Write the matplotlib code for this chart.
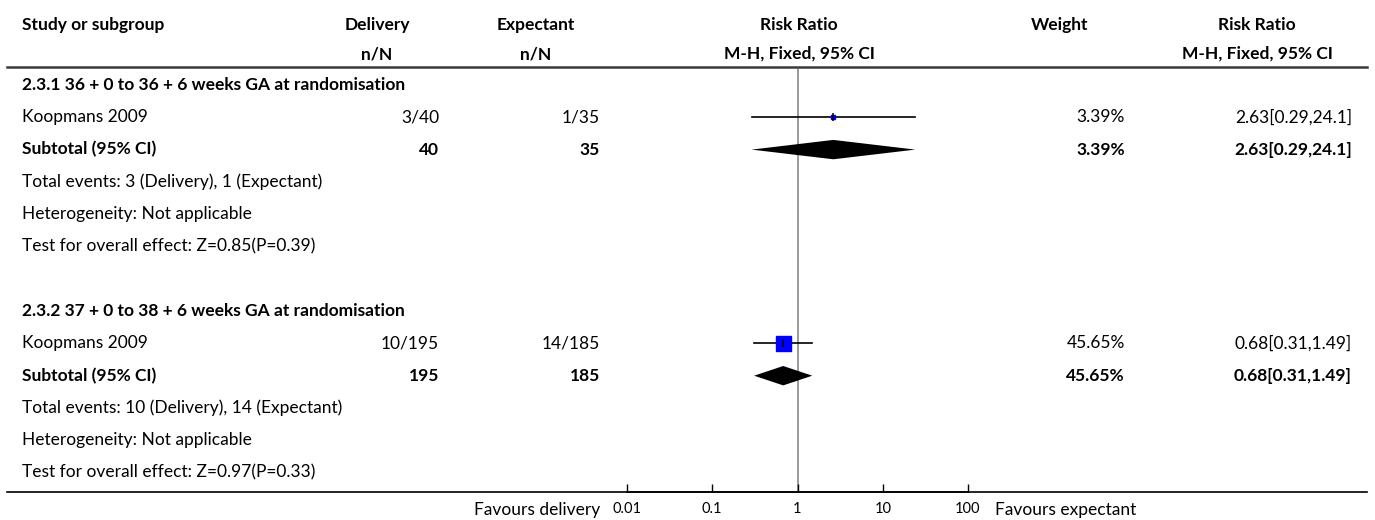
import matplotlib
matplotlib.use("Agg")
import matplotlib.pyplot as plt
from matplotlib.lines import Line2D
import numpy as np

plt.rcParams['font.family'] = ['Lato', 'DejaVu Sans']

# ---- data ----
subgroups = ["2.3.1 36 + 0 to 36 + 6 weeks GA at randomisation",
             "2.3.2 37 + 0 to 38 + 6 weeks GA at randomisation"]
studies = ["Koopmans 2009", "Koopmans 2009"]
deliv_events = [3, 10]
deliv_total = [40, 195]
expect_events = [1, 14]
expect_total = [35, 185]
rr = [2.63, 0.68]
rr_lo = [0.29, 0.31]
rr_hi = [24.1, 1.49]
weights = [3.39, 45.65]
z_vals = [0.85, 0.97]
p_vals = [0.39, 0.33]
ticks = [0.01, 0.1, 1, 10, 100]
tick_labels = ["0.01", "0.1", "1", "10", "100"]

# ---- layout (pixels) ----
W, H = 1375, 520
ROW0, PITCH = 85, 32.3          # centre of first body row, row spacing
FS = 12.5


def r2y(r):
    return ROW0 + PITCH * r


fig = plt.figure(figsize=(W / 100, H / 100), dpi=100)
bg = fig.add_axes([0, 0, 1, 1])
bg.set_xlim(0, W)
bg.set_ylim(H, 0)
bg.axis("off")

# forest axes: x = risk ratio on log scale, y = row index
top_px, bot_px = 69, 492
x0_px, x1_px = 627, 968
fx = fig.add_axes([x0_px / W, 1 - bot_px / H, (x1_px - x0_px) / W, (bot_px - top_px) / H])
fx.set_xscale("log")
fx.set_xlim(ticks[0], ticks[-1])
fx.set_ylim((bot_px - ROW0) / PITCH, (top_px - ROW0) / PITCH)
fx.patch.set_alpha(0)
for s in ["top", "left", "right"]:
    fx.spines[s].set_visible(False)
fx.spines["bottom"].set_linewidth(1.2)
fx.set_yticks([])
fx.set_xticks(ticks)
fx.set_xticklabels(tick_labels)
fx.minorticks_off()
fx.tick_params(axis="x", direction="in", length=6, width=1, pad=7, labelsize=10.5)
fx.axvline(1, color="#9a9a9a", lw=1.4, zorder=1)


def txt(x, r, s, ha="left", bold=False):
    bg.text(x, r2y(r), s, ha=ha, va="center", fontsize=FS,
            fontweight="bold" if bold else "normal", color="black")


# headers
hy1, hy2 = 25, 54
for x, s in [(377, "Delivery"), (536, "Expectant"), (799, "Risk Ratio"),
             (1060, "Weight"), (1257, "Risk Ratio")]:
    bg.text(x, hy1, s, ha="center", va="center", fontsize=FS, fontweight="bold")
bg.text(22, hy1, "Study or subgroup", ha="left", va="center", fontsize=FS, fontweight="bold")
for x, s in [(377, "n/N"), (536, "n/N"), (799, "M-H, Fixed, 95% CI"), (1257, "M-H, Fixed, 95% CI")]:
    bg.text(x, hy2, s, ha="center", va="center", fontsize=FS, fontweight="bold")
bg.add_line(Line2D([7, 1367], [67, 67], color="#3a3a3a", lw=1.8))
bg.add_line(Line2D([7, 1367], [bot_px, bot_px], color="black", lw=1.2))

# body
for g in range(len(subgroups)):
    base = g * 7
    txt(22, base, subgroups[g], bold=True)
    # study row
    r = base + 1
    txt(22, r, studies[g])
    txt(439, r, f"{deliv_events[g]}/{deliv_total[g]}", ha="right")
    txt(600, r, f"{expect_events[g]}/{expect_total[g]}", ha="right")
    txt(1125, r, f"{weights[g]:.2f}%", ha="right")
    ci = f"{rr[g]:.2f}[{rr_lo[g]:.2f},{rr_hi[g]:.3g}]"
    txt(1352, r, ci, ha="right")
    fx.plot([rr_lo[g], rr_hi[g]], [r, r], color="black", lw=1.2, zorder=2)
    ms = 10.8 * np.sqrt(weights[g] / max(weights))
    fx.plot([rr[g]], [r], marker="s", ms=ms, color="#0000ff", mec="#0000ff", zorder=3)
    fx.plot([rr[g]], [r], marker="|", ms=6, mew=1.1, color="black", zorder=4)
    # subtotal row
    r = base + 2
    txt(22, r, "Subtotal (95% CI)", bold=True)
    txt(439, r, str(deliv_total[g]), ha="right", bold=True)
    txt(600, r, str(expect_total[g]), ha="right", bold=True)
    txt(1125, r, f"{weights[g]:.2f}%", ha="right", bold=True)
    txt(1352, r, ci, ha="right", bold=True)
    h = 0.3
    fx.fill([rr_lo[g], rr[g], rr_hi[g], rr[g]], [r, r - h, r, r + h],
            color="black", lw=0, zorder=3)
    txt(22, base + 3, f"Total events: {deliv_events[g]} (Delivery), {expect_events[g]} (Expectant)")
    txt(22, base + 4, "Heterogeneity: Not applicable")
    txt(22, base + 5, f"Test for overall effect: Z={z_vals[g]:.2f}(P={p_vals[g]:.2f})")

bg.text(600, 510, "Favours delivery", ha="right", va="center", fontsize=FS)
bg.text(995, 510, "Favours expectant", ha="left", va="center", fontsize=FS)

fig.savefig("out.png", dpi=100)
